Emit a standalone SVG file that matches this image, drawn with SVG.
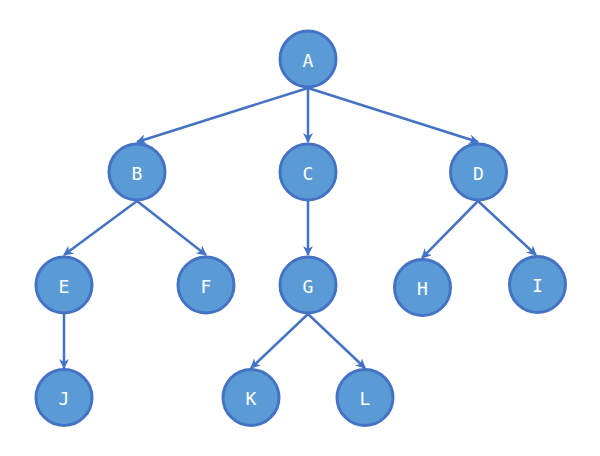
<svg xmlns="http://www.w3.org/2000/svg" width="600" height="456" viewBox="0 0 600 456">
<style>
.n circle{fill:#5B9BD5;stroke:#4472C4;stroke-width:3}
.n text{fill:#fff;font-family:"DejaVu Sans Mono","Liberation Mono",monospace;font-size:18px;text-anchor:middle;dominant-baseline:central}
.e line{stroke:#4472C4;stroke-width:2.5;marker-end:url(#ah)}
</style>
<defs>
<marker id="ah" viewBox="0 0 10 10" refX="9" refY="5" markerWidth="4" markerHeight="4" orient="auto" markerUnits="strokeWidth">
<path d="M0,0 L10,5 L0,10 L3,5 z" fill="#4472C4"/>
</marker>
</defs>
<rect width="600" height="456" fill="#fff"/>
<g id="edges" class="e">
<line x1="308" y1="88" x2="137" y2="142"/>
<line x1="308" y1="88" x2="308" y2="142"/>
<line x1="308" y1="88" x2="478" y2="142"/>
<line x1="137" y1="201" x2="64" y2="255"/>
<line x1="137" y1="201" x2="206" y2="255"/>
<line x1="308" y1="201" x2="308" y2="255"/>
<line x1="478" y1="201" x2="422" y2="258"/>
<line x1="478" y1="201" x2="536" y2="255"/>
<line x1="64" y1="314" x2="64" y2="368"/>
<line x1="308" y1="314" x2="251" y2="368"/>
<line x1="308" y1="314" x2="365" y2="368"/>
</g>
<g id="A" class="n"><circle cx="308" cy="59" r="28"/><text x="308" y="60">A</text></g>
<g id="B" class="n"><circle cx="137" cy="172" r="28"/><text x="137" y="173">B</text></g>
<g id="C" class="n"><circle cx="308" cy="172" r="28"/><text x="308" y="173">C</text></g>
<g id="D" class="n"><circle cx="478.5" cy="172" r="28"/><text x="478.5" y="173">D</text></g>
<g id="E" class="n"><circle cx="64" cy="285" r="28"/><text x="64" y="286">E</text></g>
<g id="F" class="n"><circle cx="206" cy="285" r="28"/><text x="206" y="286">F</text></g>
<g id="G" class="n"><circle cx="308" cy="285" r="28"/><text x="308" y="286">G</text></g>
<g id="H" class="n"><circle cx="422.5" cy="287.5" r="28"/><text x="422.5" y="288.5">H</text></g>
<g id="I" class="n"><circle cx="537.5" cy="284.5" r="28"/><text x="537.5" y="285.5">I</text></g>
<g id="J" class="n"><circle cx="64" cy="397.5" r="28"/><text x="64" y="398.5">J</text></g>
<g id="K" class="n"><circle cx="251" cy="397.5" r="28"/><text x="251" y="398.5">K</text></g>
<g id="L" class="n"><circle cx="365" cy="397.5" r="28"/><text x="365" y="398.5">L</text></g>
</svg>
